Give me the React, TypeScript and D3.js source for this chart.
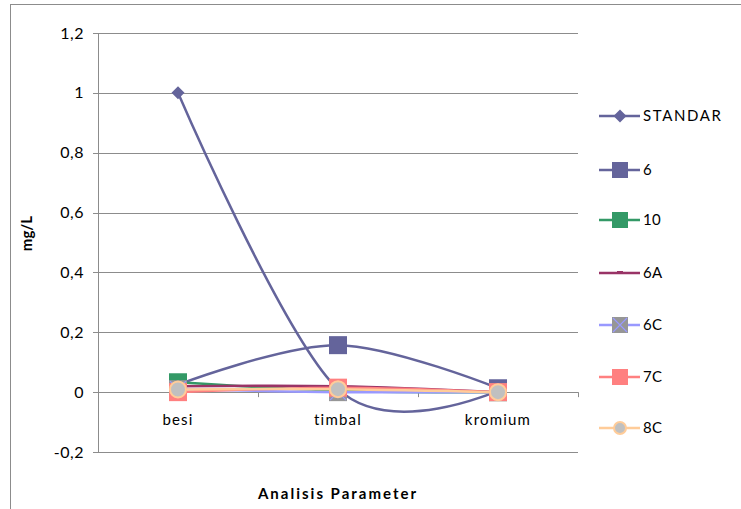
import React from "react";
import * as d3 from "d3";

const categories = ["besi", "timbal", "kromium"];
const seriesNames = ["STANDAR", "6", "10", "6A", "6C", "7C", "8C"];
const standar = [1, 0.01, 0.005];
const s6 = [0.025, 0.157, 0.013];
const s10 = [0.033, 0.005, 0];
const s6A = [0.02, 0.02, 0];
const s6C = [0.01, 0, 0];
const s7C = [0, 0.015, 0];
const s8C = [0.009, 0.01, 0];
const yTicks = [-0.2, 0, 0.2, 0.4, 0.6, 0.8, 1, 1.2];

const seriesValues = [standar, s6, s10, s6A, s6C, s7C, s8C];
const lineColors = ["#64649b", "#64649b", "#339966", "#993366", "#9999ff", "#ff8080", "#ffcc99"];
const markerTypes = ["diamond", "square", "square", "dash", "xsquare", "square", "circle"];

const W = 741, H = 509;
const X0 = 98, X1 = 578, Y0 = 33, Y1 = 452;
const FONT = "Lato, 'Open Sans', sans-serif";

function Marker({ type, cx, cy, color, legend }: any) {
  const s = 18;
  if (type === "diamond") {
    const r = 6.5;
    return <path d={`M${cx},${cy - r}L${cx + r},${cy}L${cx},${cy + r}L${cx - r},${cy}Z`} fill={color} />;
  }
  if (type === "square") {
    const sz = legend ? 16 : s;
    return <rect x={cx - sz / 2} y={cy - sz / 2} width={sz} height={sz} fill={color} />;
  }
  if (type === "xsquare") {
    const sz = legend ? 16 : s;
    const h = sz / 2;
    return (
      <g>
        <rect x={cx - h} y={cy - h} width={sz} height={sz} fill="#969696" />
        <path d={`M${cx - h + 1},${cy - h + 1}L${cx + h - 1},${cy + h - 1}M${cx + h - 1},${cy - h + 1}L${cx - h + 1},${cy + h - 1}`} stroke="#9999ff" strokeWidth={1.2} />
      </g>
    );
  }
  if (type === "circle") {
    return <circle cx={cx} cy={cy} r={legend ? 6 : 8} fill="#c0c0c0" stroke="#ffcc99" strokeWidth={2} />;
  }
  if (type === "dash") {
    return <rect x={cx - 3} y={cy - 2} width={6} height={2} fill={color} />;
  }
  return null;
}

export default function App() {
  const x = d3.scalePoint<string>().domain(categories).range([X0, X1]).padding(0.5);
  const y = d3.scaleLinear().domain([-0.2, 1.2]).range([Y1, Y0]);
  const fmt = (v: number) => String(+v.toFixed(1)).replace(".", ",");
  const line = d3
    .line<number>()
    .x((_, i) => x(categories[i]) as number)
    .y((d) => y(d))
    .curve(d3.curveCardinal.tension(0));

  const bandTicks = [0, 1, 2, 3].map((i) => X0 + ((X1 - X0) / 3) * i);

  return (
    <svg width={W} height={H} style={{ position: "absolute", left: 0, top: 0, background: "#fff" }}>
      <rect x={10.5} y={4.5} width={W + 10} height={H + 10} fill="none" stroke="#8c8c8c" strokeWidth={1} />
      {yTicks.map((t) => (
        <line key={t} x1={X0 - 5} x2={X1} y1={Math.round(y(t)) + 0.5} y2={Math.round(y(t)) + 0.5} stroke="#8c8c8c" strokeWidth={1} />
      ))}
      <line x1={X0 + 0.5} x2={X0 + 0.5} y1={Y0} y2={Y1} stroke="#8c8c8c" />
      {yTicks.map((t) => (
        <text key={"l" + t} x={84} y={y(t) + 5.5} textAnchor="end" fontFamily={FONT} fontSize={16} letterSpacing={0.5} fill="#000">
          {fmt(t)}
        </text>
      ))}
      {bandTicks.map((bx, i) => (
        <line key={"bt" + i} x1={Math.round(bx) + 0.5} x2={Math.round(bx) + 0.5} y1={y(0)} y2={y(0) + 5} stroke="#8c8c8c" />
      ))}
      {categories.map((c) => (
        <text key={c} x={x(c)} y={425} textAnchor="middle" fontFamily={FONT} fontSize={15} letterSpacing={1.2} fill="#000">
          {c}
        </text>
      ))}
      {seriesValues.map((vals, i) => (
        <path key={"p" + i} d={line(vals) as string} fill="none" stroke={lineColors[i]} strokeWidth={2.5} strokeLinejoin="round" />
      ))}
      {seriesValues.map((vals, i) => (
        <g key={"m" + i}>
          {vals.map((v, j) => (
            <Marker key={j} type={markerTypes[i]} cx={x(categories[j])} cy={y(v)} color={lineColors[i]} />
          ))}
        </g>
      ))}
      <text
        transform={`translate(32,${(Y0 + Y1) / 2 - 9}) rotate(-90)`}
        textAnchor="middle"
        fontFamily={FONT}
        fontWeight="bold"
        fontSize={15}
        fill="#000"
      >
        mg/L
      </text>
      <text x={338} y={499} textAnchor="middle" fontFamily={FONT} fontWeight="bold" fontSize={15} letterSpacing={2} fill="#000">
        Analisis Parameter
      </text>
      {seriesNames.map((n, i) => {
        const ly = [116, 170, 220, 273, 325, 377, 428][i];
        return (
          <g key={"lg" + n}>
            <line x1={599} x2={640} y1={ly} y2={ly} stroke={lineColors[i]} strokeWidth={2.5} />
            <Marker type={markerTypes[i]} cx={620} cy={ly} color={lineColors[i]} legend />
            <text x={643} y={ly + 5} fontFamily={FONT} fontSize={15} letterSpacing={n === "STANDAR" ? 1.6 : 0.3} fill="#000">
              {n}
            </text>
          </g>
        );
      })}
    </svg>
  );
}
